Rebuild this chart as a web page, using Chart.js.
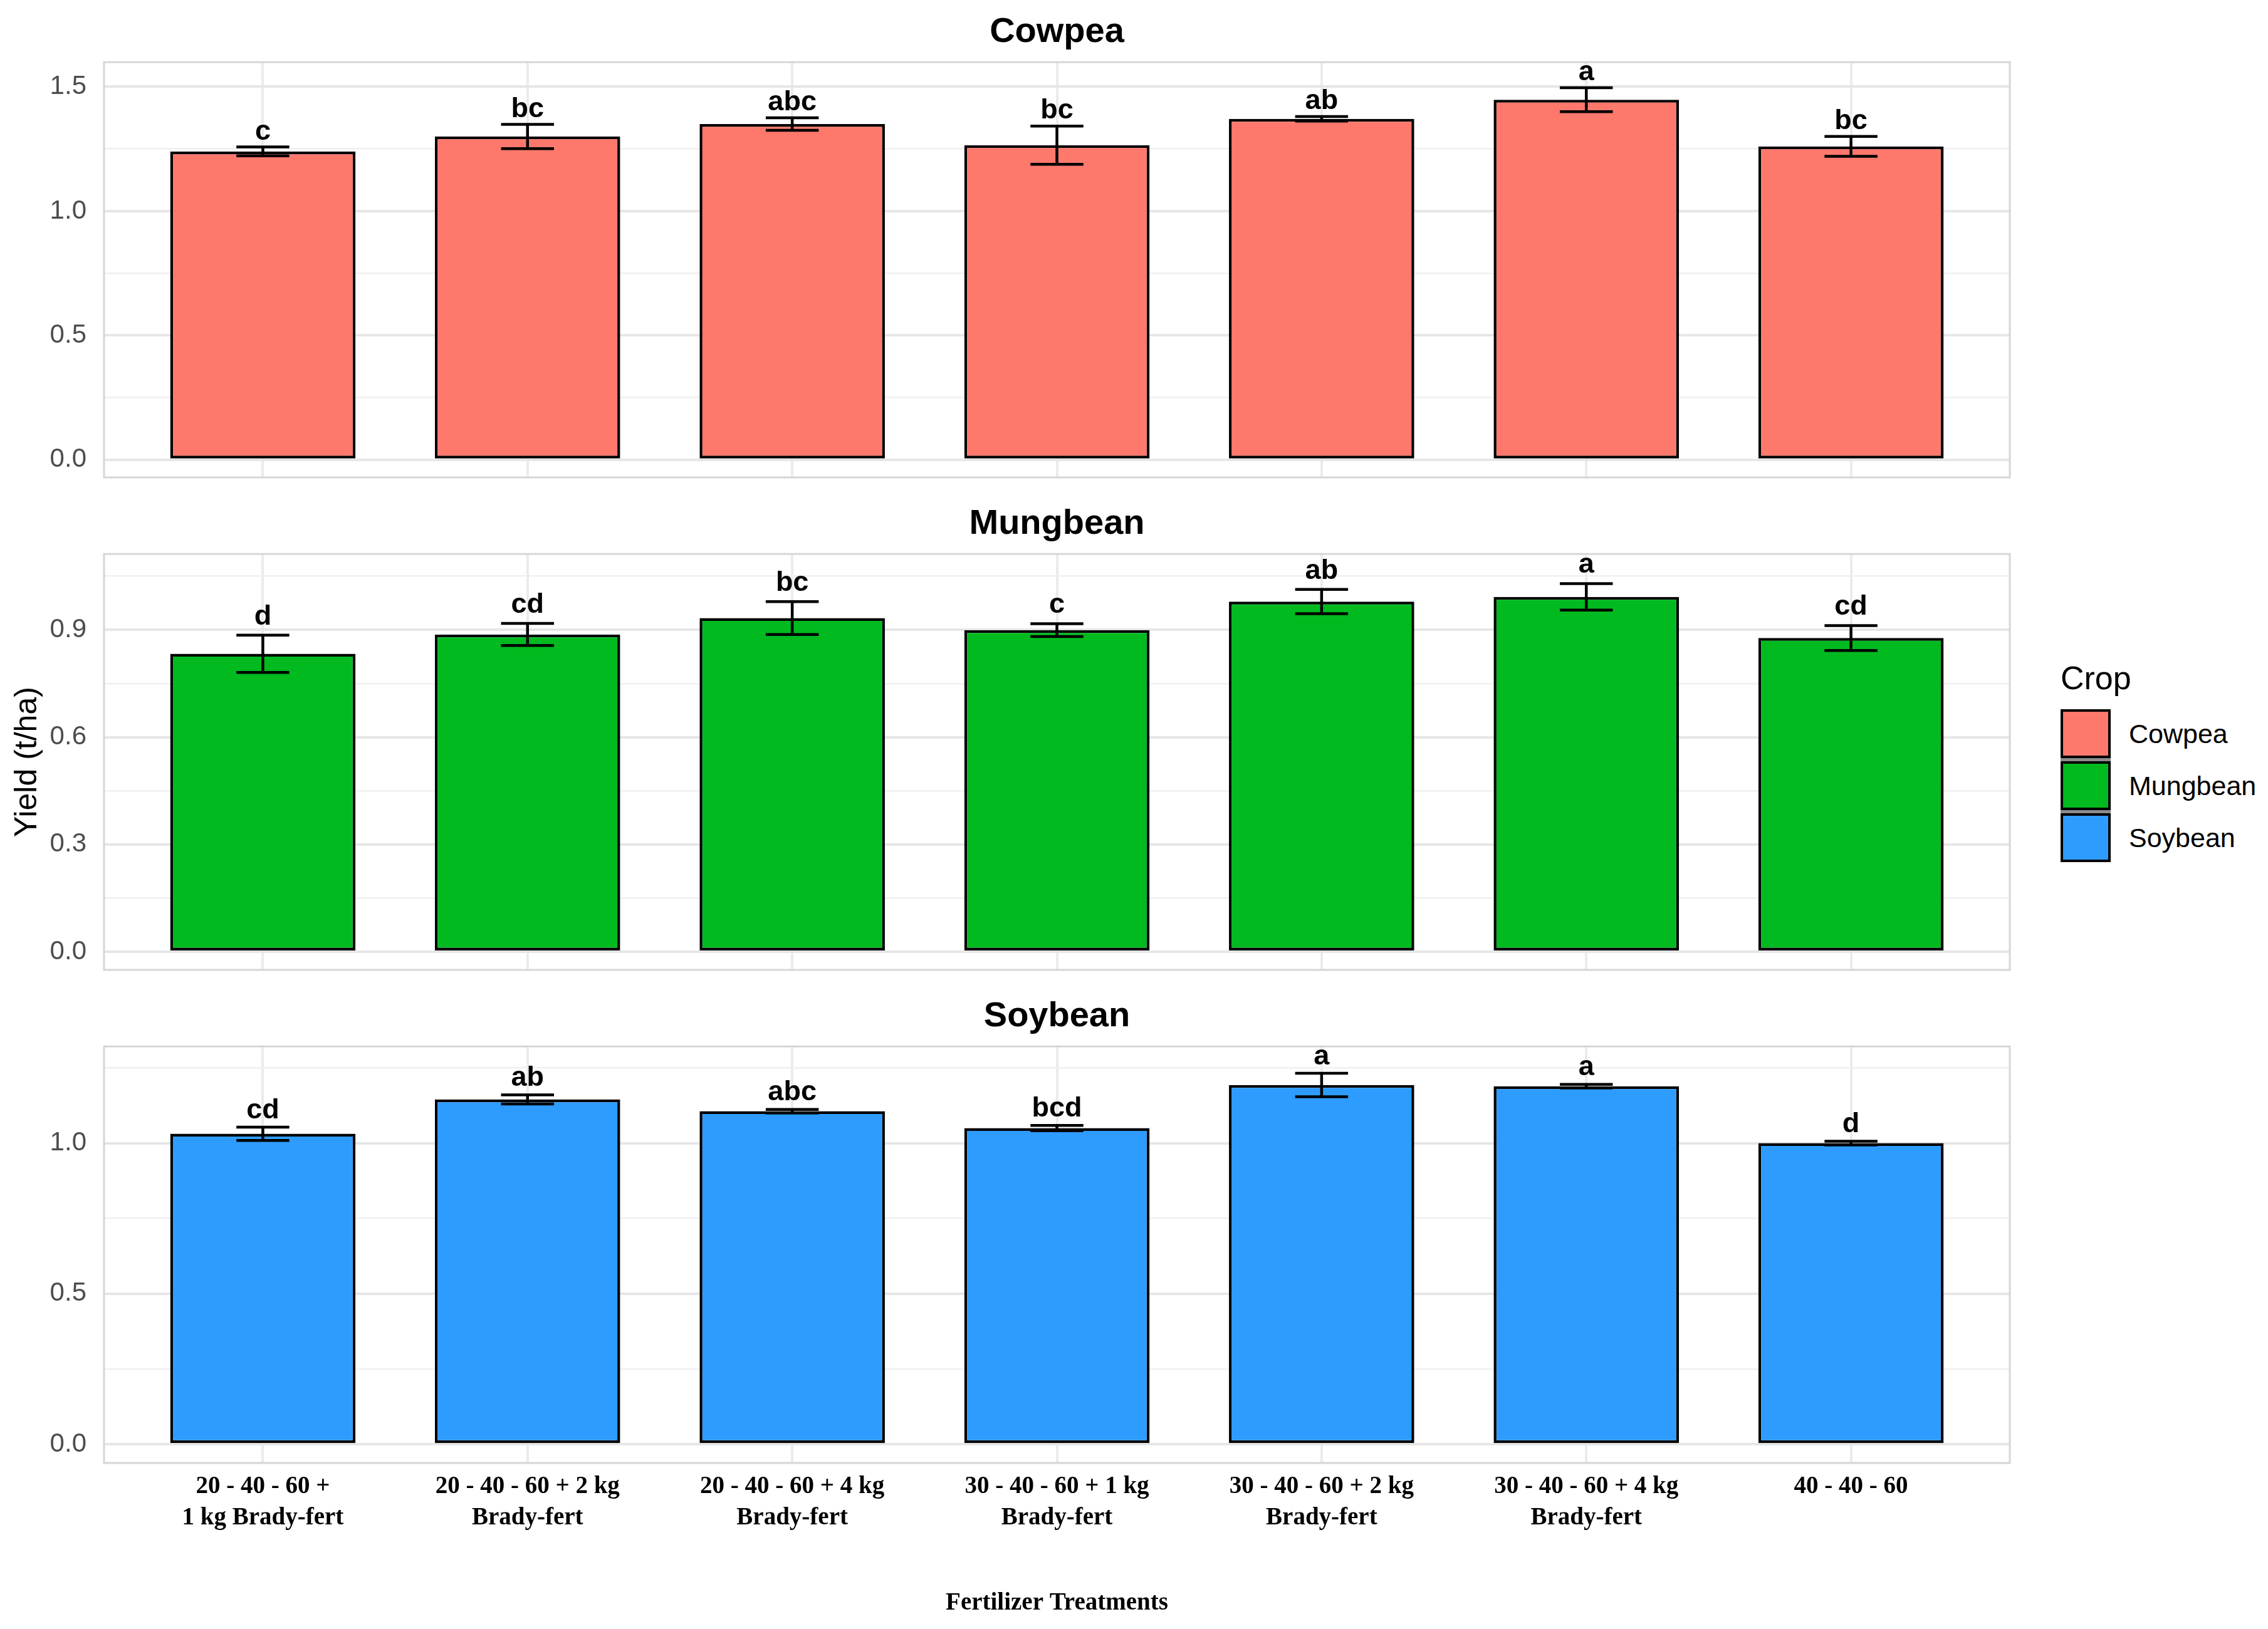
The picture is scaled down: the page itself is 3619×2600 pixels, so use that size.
<!DOCTYPE html>
<html lang="en">
  <head>
    <meta charset="UTF-8" />
    <title>Yield by Fertilizer Treatment</title>
    <script src="https://cdn.jsdelivr.net/npm/chart.js"></script>
    <style>
      body { margin: 0; background: #fff; }
      #page {
        position: relative;
        width: 3619px;
        height: 2600px;
        font-family: "Liberation Sans", Arial, sans-serif;
        color: #000;
      }
      #page canvas { position: absolute; left: 0; }
      #legendTitle {
        position: absolute; left: 3288px; top: 1056px;
        font-size: 52px; line-height: 52px;
      }
      #legendKeys {
        position: absolute; left: 3288px; top: 1132px;
        width: 80px; background: #8c8c8c;
      }
      .key { box-sizing: border-box; width: 80px; height: 78px; border: 4px solid #000; }
      .key + .key { margin-top: 5px; }
      .keyLabel { position: absolute; left: 3397px; font-size: 43px; line-height: 43px; white-space: nowrap; }
    </style>
  </head>
  <body>
    <div id="page">
      <canvas id="cowpeaChart" width="3211" height="748" style="top:18px;width:3211px;height:748px"></canvas>
      <canvas id="mungbeanChart" width="3211" height="749" style="top:803px;width:3211px;height:749px"></canvas>
      <canvas id="soybeanChart" width="3211" height="997" style="top:1589px;width:3211px;height:997px"></canvas>
      <div id="legendTitle">Crop</div>
      <div id="legendKeys"></div>
    </div>

    <script>
      // x categories (fertilizer treatments)
      const treatments = [
        ["20 - 40 - 60 +", "1 kg Brady-fert"],
        ["20 - 40 - 60 + 2 kg", "Brady-fert"],
        ["20 - 40 - 60 + 4 kg", "Brady-fert"],
        ["30 - 40 - 60 + 1 kg", "Brady-fert"],
        ["30 - 40 - 60 + 2 kg", "Brady-fert"],
        ["30 - 40 - 60 + 4 kg", "Brady-fert"],
        "40 - 40 - 60",
      ];

      const crops = ["Cowpea", "Mungbean", "Soybean"];
      const cropColors = ["#fe786c", "#00ba20", "#2e9cff"];

      // yield (t/ha), standard error, significance letters
      const cowpeaYield = [1.24, 1.3, 1.35, 1.265, 1.371, 1.448, 1.26];
      const cowpeaSE = [0.018, 0.049, 0.025, 0.077, 0.009, 0.048, 0.04];
      const cowpeaLetters = ["c", "bc", "abc", "bc", "ab", "a", "bc"];

      const mungbeanYield = [0.833, 0.887, 0.933, 0.899, 0.979, 0.992, 0.877];
      const mungbeanSE = [0.052, 0.031, 0.046, 0.018, 0.034, 0.037, 0.035];
      const mungbeanLetters = ["d", "cd", "bc", "c", "ab", "a", "cd"];

      const soybeanYield = [1.031, 1.145, 1.106, 1.05, 1.193, 1.189, 1.0];
      const soybeanSE = [0.022, 0.015, 0.006, 0.009, 0.039, 0.006, 0.006];
      const soybeanLetters = ["cd", "ab", "abc", "bcd", "a", "a", "d"];

      const LETTER_GAP = 0.03;
      const AXIS_W = 166;

      Chart.defaults.font.family = '"Liberation Sans", Arial, sans-serif';

      function isMultiple(v, step) {
        const r = v / step;
        return Math.abs(r - Math.round(r)) < 1e-6;
      }

      // error bars, letters and the grey panel frame
      const panelExtras = {
        id: "panelExtras",
        afterDatasetsDraw(chart, args, opts) {
          const { ctx, chartArea: a } = chart;
          const x = chart.scales.x, y = chart.scales.y;
          ctx.save();
          ctx.strokeStyle = "#000";
          ctx.fillStyle = "#000";
          ctx.lineWidth = 4.5;
          ctx.font = "bold 45px 'Liberation Sans', Arial, sans-serif";
          ctx.textAlign = "center";
          ctx.textBaseline = "alphabetic";
          opts.values.forEach((v, i) => {
            const cx = x.getPixelForValue(i);
            const hi = y.getPixelForValue(v + opts.se[i]);
            const lo = y.getPixelForValue(v - opts.se[i]);
            const l = x.getPixelForValue(i - 0.1);
            const r = x.getPixelForValue(i + 0.1);
            ctx.beginPath();
            ctx.moveTo(cx, hi); ctx.lineTo(cx, lo);
            ctx.moveTo(l, hi); ctx.lineTo(r, hi);
            ctx.moveTo(l, lo); ctx.lineTo(r, lo);
            ctx.stroke();
            ctx.fillText(opts.letters[i], cx, y.getPixelForValue(v + opts.se[i] + LETTER_GAP));
          });
          ctx.strokeStyle = "#d6d6d6";
          ctx.lineWidth = 3;
          ctx.strokeRect(a.left, a.top, a.right - a.left, a.bottom - a.top);
          ctx.restore();
        },
      };

      function makeChart(id, ci, values, se, letters, yAxis, opt) {
        const bottom = !!opt.bottom;
        return new Chart(document.getElementById(id), {
          type: "bar",
          data: {
            datasets: [
              {
                label: crops[ci],
                data: values.map((v, i) => ({ x: i, y: v })),
                backgroundColor: cropColors[ci],
                borderColor: "#000",
                borderWidth: 4.5,
                borderSkipped: false,
                barPercentage: 0.7,
                categoryPercentage: 1,
              },
            ],
          },
          options: {
            responsive: false,
            maintainAspectRatio: false,
            animation: false,
            devicePixelRatio: 1,
            events: [],
            layout: { padding: { left: 0, right: 4, top: 0, bottom: 4 } },
            plugins: {
              legend: { display: false },
              tooltip: { enabled: false },
              title: {
                display: true,
                text: crops[ci],
                fullSize: false,
                color: "#000",
                font: { size: 56, weight: "bold", lineHeight: 1.2 },
                padding: { top: 0, bottom: 14 },
              },
              panelExtras: { values: values, se: se, letters: letters },
            },
            scales: {
              x: {
                type: "linear",
                min: -0.6,
                max: treatments.length - 0.4,
                offset: false,
                afterBuildTicks: (s) => {
                  s.ticks = treatments.map((_, i) => ({ value: i }));
                },
                afterFit: (s) => {
                  s.height = bottom ? 247 : 0;
                  s.paddingLeft = 0; s.paddingRight = 0;
                  s.paddingTop = 0; s.paddingBottom = 0;
                },
                grid: { offset: false, drawTicks: false, color: "#ebebeb", lineWidth: 4 },
                border: { display: false },
                ticks: {
                  display: bottom,
                  autoSkip: false,
                  maxRotation: 0,
                  padding: 13,
                  color: "#000",
                  font: { family: '"Liberation Serif", "Times New Roman", serif', size: 39, weight: "bold", lineHeight: 1.28 },
                  callback: (v) => treatments[Math.round(v)],
                },
                title: {
                  display: bottom,
                  text: "Fertilizer Treatments",
                  color: "#000",
                  padding: { top: 0, bottom: 0 },
                  font: { family: '"Liberation Serif", "Times New Roman", serif', size: 39, weight: "bold", lineHeight: 1.2 },
                },
              },
              y: {
                min: yAxis.min,
                max: yAxis.max,
                afterBuildTicks: (s) => {
                  const t = [];
                  for (let k = Math.ceil(yAxis.min / yAxis.minor); k * yAxis.minor <= yAxis.max; k++) {
                    t.push({ value: +(k * yAxis.minor).toFixed(4) });
                  }
                  s.ticks = t;
                },
                afterFit: (s) => {
                  s.width = AXIS_W;
                  s.paddingTop = 0; s.paddingBottom = 0;
                  s.paddingLeft = 0; s.paddingRight = 0;
                },
                grid: {
                  drawTicks: false,
                  color: (c) => (c.tick && isMultiple(c.tick.value, yAxis.major) ? "#e6e6e6" : "#f0f0f0"),
                  lineWidth: (c) => (c.tick && isMultiple(c.tick.value, yAxis.major) ? 4 : 2.5),
                },
                border: { display: false },
                ticks: {
                  autoSkip: false,
                  padding: 28,
                  color: "#4d4d4d",
                  font: { size: 42 },
                  callback: (v) => (isMultiple(v, yAxis.major) ? v.toFixed(1) : ""),
                },
                title: {
                  display: !!opt.yTitle,
                  text: "Yield (t/ha)",
                  color: "#000",
                  padding: { top: 14, bottom: 0 },
                  font: { size: 50, lineHeight: 1.2 },
                },
              },
            },
          },
          plugins: [panelExtras],
        });
      }

      makeChart("cowpeaChart", 0, cowpeaYield, cowpeaSE, cowpeaLetters,
        { min: -0.071, max: 1.599, minor: 0.25, major: 0.5 }, {});
      makeChart("mungbeanChart", 1, mungbeanYield, mungbeanSE, mungbeanLetters,
        { min: -0.0507, max: 1.112, minor: 0.15, major: 0.3 }, { yTitle: true });
      makeChart("soybeanChart", 2, soybeanYield, soybeanSE, soybeanLetters,
        { min: -0.062, max: 1.321, minor: 0.25, major: 0.5 }, { bottom: true });

      // legend
      const keys = document.getElementById("legendKeys");
      const page = document.getElementById("page");
      crops.forEach((c, i) => {
        const k = document.createElement("div");
        k.className = "key";
        k.style.background = cropColors[i];
        keys.appendChild(k);
        const lab = document.createElement("div");
        lab.className = "keyLabel";
        lab.style.top = 1132 + i * 83 + 39 - 21.5 + "px";
        lab.textContent = c;
        page.appendChild(lab);
      });
    </script>
  </body>
</html>
